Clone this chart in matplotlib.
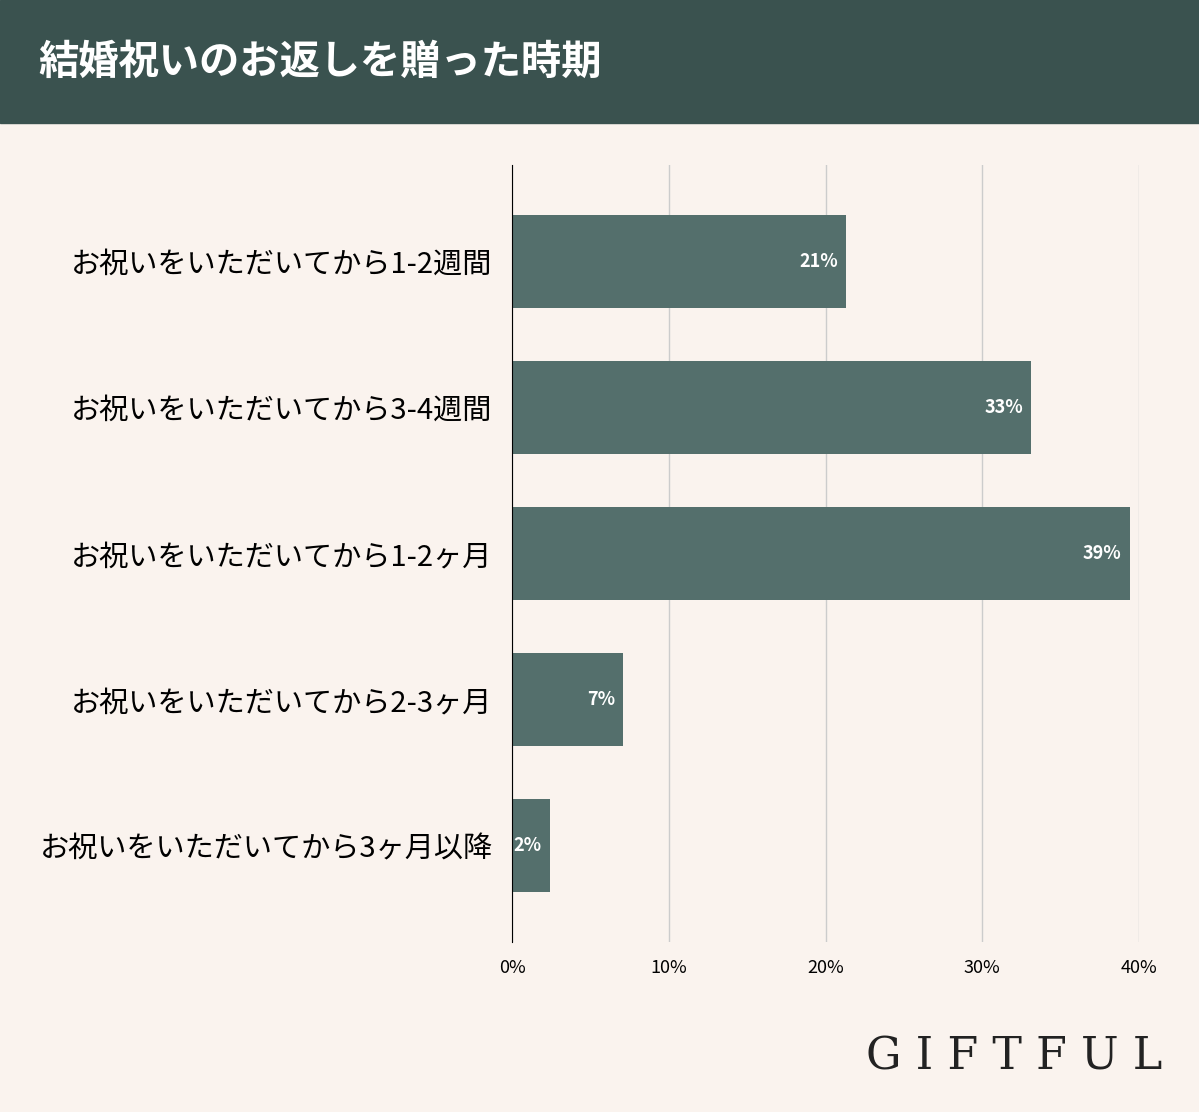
import matplotlib
matplotlib.use("Agg")
import matplotlib.pyplot as plt

categories = ["お祝いをいただいてから1-2週間", "お祝いをいただいてから3-4週間",
              "お祝いをいただいてから1-2ヶ月", "お祝いをいただいてから2-3ヶ月",
              "お祝いをいただいてから3ヶ月以降"]
values = [21.3, 33.1, 39.4, 7.1, 2.4]
labels = ["21%", "33%", "39%", "7%", "2%"]
xticks = [0, 10, 20, 30, 40]
title = "結婚祝いのお返しを贈った時期"

plt.rcParams["font.family"] = "Noto Sans CJK JP"
W, H = 1199, 1112
fig = plt.figure(figsize=(W/100, H/100), dpi=100)
fig.patch.set_facecolor("#faf3ee")
fig.patches.append(matplotlib.patches.Rectangle((0, 1-123/H), 1, 123/H, transform=fig.transFigure,
                                                color="#3a524f", zorder=0))
fig.text(38/W, 1-62/H, title, color="white", fontsize=29, fontweight="bold", va="center")

ax = fig.add_axes([512/W, 1-942/H, (1139-512)/W, (942-165)/H])
ax.set_facecolor("#faf3ee")
y = list(range(len(categories)))
ax.barh(y, values, height=0.64, color="#546f6c", zorder=2)
for yi, v, l in zip(y, values, labels):
    ax.text(v - 0.5, yi, l, color="white", fontsize=13, fontweight="bold", ha="right", va="center", zorder=3)
ax.set_ylim(4.66, -0.66)
ax.set_xlim(0, 40)
ax.set_xticks(xticks)
ax.set_xticklabels([f"{t}%" for t in xticks], fontsize=13)
ax.set_yticks(y)
ax.set_yticklabels(categories, fontsize=21)
ax.tick_params(axis="x", length=0, pad=12)
ax.tick_params(axis="y", length=0, pad=14)
ax.grid(axis="x", color="#cccccc", lw=1, zorder=0)
for s in ["top", "right", "bottom"]:
    ax.spines[s].set_visible(False)
ax.spines["left"].set_color("black")
ax.spines["left"].set_zorder(4)

fig.text(1162/W, 1-1057/H, "G I F T F U L", fontsize=32, ha="right", va="center",
         color="#222222", fontfamily="DejaVu Serif", fontweight="light")
fig.savefig("out.png", dpi=100, facecolor=fig.get_facecolor())
